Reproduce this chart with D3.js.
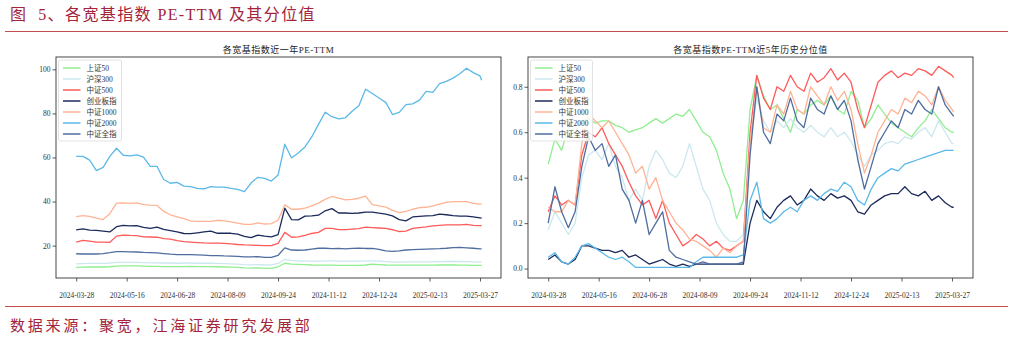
<!DOCTYPE html>
<html><head><meta charset="utf-8">
<script src="https://cdn.jsdelivr.net/npm/d3@7"></script>
<style>body{margin:0;background:#fff;} svg{display:block}</style>
</head><body>
<svg id="c" width="1013" height="340"></svg>
<script>
// ---------- data ----------
const seriesNames = ["上证50","沪深300","中证500","创业板指","中证1000","中证2000","中证全指"];
const seriesColors = ["#90ee90","#cbe8ef","#ff5b5b","#1c2a5c","#ffb394","#5bb9e8","#4f6d9e"];
const tickLabels = ["2024-03-28","2024-05-16","2024-06-28","2024-08-09","2024-09-24","2024-11-12","2024-12-24","2025-02-13","2025-03-27"];
const tickIndex = [0,30,60,90,120,150,180,210,240];
// trading-day index of each sampled point
const dayIndex = d3.range(0, 241, 4).concat([241]);

// PE-TTM (left panel)
const peSZ50 = [10.1,10.2,10.3,10.3,10.3,10.4,10.7,10.8,10.8,10.8,
 10.7,10.6,10.6,10.5,10.5,10.5,10.5,10.6,10.5,10.5,
 10.5,10.4,10.3,10.2,10.1,9.9,9.8,9.9,9.7,9.7,
 10.4,12.0,11.6,11.5,11.4,11.2,11.1,11.1,11.1,11.0,
 11.0,11.0,11.0,11.2,11.6,11.4,11.2,11.1,11.1,11.1,
 11.1,11.1,11.1,11.1,11.2,11.2,11.2,11.1,11.1,11.0,
 11.0,11.0];
const peHS300 = [11.7,11.8,11.9,11.9,11.9,12.1,12.4,12.4,12.4,12.4,
 12.3,12.2,12.2,12.1,12.1,12.0,12.1,12.1,12.0,12.0,
 12.0,11.9,11.8,11.7,11.6,11.4,11.3,11.4,11.2,11.3,
 11.9,13.8,13.3,13.1,13.1,13.0,13.0,13.1,13.1,13.0,
 13.0,13.0,13.0,13.1,13.1,13.0,12.7,12.5,12.5,12.6,
 12.6,12.6,12.6,12.6,12.7,12.8,12.8,12.8,12.7,12.6,
 12.5,12.5];
const peZZ500 = [21.6,22.4,22.0,21.6,21.6,21.5,24.3,24.8,24.6,24.5,
 24.0,23.9,23.8,23.2,22.9,22.3,21.8,21.6,21.4,21.2,
 21.1,21.1,21.0,20.8,20.5,20.3,20.2,20.1,20.0,20.0,
 21.0,26.0,23.8,24.0,24.6,25.5,26.0,27.8,27.8,27.3,
 27.3,27.5,27.7,28.4,28.2,28.0,27.8,27.2,26.4,26.6,
 27.8,28.2,28.5,29.0,29.2,29.4,29.4,29.4,29.6,29.2,
 29.1,29.1];
const peCYB = [27.1,27.6,27.0,26.9,26.6,26.2,28.6,29.2,29.0,29.1,
 28.3,27.8,28.4,27.4,26.8,26.2,25.5,25.4,25.8,26.2,
 26.6,25.6,25.6,25.6,25.2,24.2,23.6,24.8,24.3,24.0,
 25.0,37.0,31.8,31.7,33.4,33.5,33.8,35.8,36.8,34.8,
 34.8,34.6,34.8,35.2,35.2,34.7,34.3,33.5,31.8,31.2,
 33.0,33.3,33.5,33.6,34.3,34.0,33.6,33.4,33.4,33.0,
 32.6,32.5];
const peZZ1000 = [33.2,33.6,33.3,32.5,31.8,34.5,39.3,39.4,39.2,39.4,
 38.6,38.4,38.3,35.5,34.0,33.0,32.2,31.2,31.0,31.0,
 31.0,31.5,31.2,30.8,30.2,29.6,29.6,30.3,29.8,30.0,
 31.5,38.5,36.5,36.5,37.0,38.0,39.3,41.0,42.3,41.5,
 40.8,41.0,41.5,42.5,38.6,38.0,37.5,36.0,35.0,35.5,
 36.5,37.2,37.4,38.0,38.8,39.6,40.0,40.0,40.0,39.2,
 38.8,38.8];
const peZZ2000 = [60.5,60.5,58.8,54.0,55.5,60.5,64.2,61.0,60.7,61.2,
 60.2,56.0,56.0,50.0,48.3,48.7,47.0,46.8,46.0,45.8,
 46.8,46.5,46.5,46.0,45.5,44.5,48.5,51.0,50.5,49.3,
 52.0,66.0,59.8,62.0,64.8,69.3,75.0,80.5,78.5,77.5,
 78.0,81.0,83.5,91.0,89.0,87.0,85.0,79.5,80.5,84.0,
 84.3,86.0,90.0,89.5,93.5,94.5,96.0,98.0,100.5,98.5,
 97.0,95.0];
const peZZQZ = [16.3,16.2,16.2,16.2,16.4,16.8,17.3,17.3,17.2,17.1,
 16.9,16.8,16.7,16.4,16.1,15.9,15.9,15.9,15.8,15.7,
 15.5,15.5,15.3,15.2,15.1,14.9,14.9,15.0,14.7,14.7,
 15.6,19.0,18.0,17.9,18.0,18.4,18.8,18.8,18.6,18.7,
 18.5,18.7,18.8,18.7,18.7,18.3,17.6,17.4,17.6,18.0,
 18.2,18.3,18.4,18.5,18.6,18.8,19.1,19.2,19.0,18.8,
 18.5,18.5];

// 5-year percentile (right panel)
const pctSZ50 = [0.46,0.57,0.52,0.62,0.60,0.65,0.66,0.64,0.65,0.65,
 0.63,0.62,0.60,0.61,0.62,0.64,0.66,0.64,0.66,0.68,
 0.67,0.70,0.65,0.60,0.58,0.52,0.42,0.35,0.22,0.30,
 0.70,0.85,0.76,0.70,0.72,0.66,0.60,0.70,0.68,0.72,
 0.74,0.72,0.76,0.70,0.68,0.78,0.74,0.62,0.66,0.72,
 0.68,0.64,0.62,0.60,0.58,0.62,0.65,0.70,0.66,0.62,
 0.60,0.60];
const pctHS300 = [0.17,0.25,0.20,0.15,0.20,0.40,0.50,0.52,0.48,0.55,
 0.45,0.40,0.30,0.35,0.30,0.45,0.52,0.48,0.42,0.40,
 0.45,0.55,0.45,0.35,0.30,0.20,0.15,0.12,0.12,0.15,
 0.55,0.75,0.65,0.60,0.65,0.62,0.66,0.62,0.60,0.63,
 0.60,0.58,0.62,0.58,0.60,0.56,0.50,0.45,0.50,0.52,
 0.55,0.56,0.55,0.58,0.57,0.60,0.62,0.58,0.65,0.60,
 0.55,0.55];
const pctZZ500 = [0.25,0.32,0.28,0.30,0.28,0.50,0.60,0.58,0.62,0.55,
 0.50,0.45,0.38,0.32,0.28,0.30,0.22,0.30,0.20,0.15,
 0.10,0.12,0.15,0.13,0.10,0.12,0.09,0.08,0.10,0.12,
 0.60,0.85,0.75,0.70,0.80,0.78,0.85,0.80,0.78,0.86,
 0.82,0.84,0.88,0.83,0.86,0.82,0.70,0.62,0.72,0.82,
 0.85,0.87,0.84,0.86,0.85,0.88,0.87,0.85,0.89,0.87,
 0.85,0.84];
const pctCYB = [0.04,0.06,0.03,0.02,0.04,0.10,0.10,0.09,0.08,0.08,
 0.07,0.08,0.05,0.06,0.04,0.02,0.03,0.04,0.02,0.01,
 0.02,0.01,0.02,0.02,0.02,0.02,0.02,0.02,0.02,0.02,
 0.20,0.30,0.25,0.22,0.27,0.30,0.32,0.28,0.30,0.35,
 0.32,0.30,0.33,0.31,0.32,0.30,0.25,0.24,0.28,0.30,
 0.32,0.33,0.33,0.36,0.33,0.32,0.34,0.30,0.32,0.29,
 0.27,0.27];
const pctZZ1000 = [0.27,0.25,0.25,0.30,0.28,0.55,0.68,0.65,0.62,0.65,
 0.60,0.55,0.50,0.42,0.45,0.35,0.40,0.30,0.25,0.20,
 0.17,0.13,0.12,0.10,0.08,0.05,0.09,0.07,0.10,0.12,
 0.55,0.80,0.62,0.60,0.72,0.68,0.78,0.70,0.68,0.80,
 0.76,0.72,0.80,0.74,0.78,0.70,0.55,0.42,0.50,0.60,
 0.65,0.70,0.68,0.75,0.73,0.78,0.76,0.72,0.80,0.74,
 0.70,0.69];
const pctZZ2000 = [0.05,0.07,0.03,0.02,0.05,0.10,0.11,0.09,0.07,0.05,
 0.04,0.05,0.03,0.005,0.005,0.005,0.005,0.005,0.005,0.005,
 0.005,0.005,0.03,0.05,0.05,0.05,0.05,0.05,0.05,0.06,
 0.30,0.38,0.22,0.20,0.22,0.25,0.27,0.25,0.30,0.32,
 0.30,0.33,0.35,0.34,0.38,0.36,0.30,0.28,0.35,0.40,
 0.42,0.44,0.43,0.46,0.47,0.48,0.49,0.50,0.51,0.52,
 0.52,0.52];
const pctZZQZ = [0.20,0.36,0.25,0.18,0.25,0.45,0.58,0.52,0.55,0.45,
 0.50,0.35,0.30,0.20,0.30,0.15,0.20,0.25,0.08,0.05,
 0.04,0.03,0.02,0.03,0.02,0.02,0.02,0.02,0.02,0.03,
 0.50,0.80,0.60,0.55,0.68,0.65,0.75,0.65,0.62,0.75,
 0.70,0.68,0.76,0.70,0.74,0.65,0.48,0.35,0.45,0.55,
 0.60,0.65,0.62,0.70,0.68,0.74,0.70,0.68,0.80,0.72,
 0.68,0.67];

const leftTicks = [20,40,60,80,100];
const rightTicks = [0,0.2,0.4,0.6,0.8];

// ---------- drawing ----------
const svg = d3.select("#c");
const SERIF = "'Liberation Serif','DejaVu Serif','Noto Sans CJK SC',serif";
const RED = "#c0504d";

svg.append("text").attr("x", 10).attr("y", 20)
  .attr("fill", "#a3243b").style("font-family", SERIF).style("font-size", "16px")
  .style("letter-spacing", "1.4px").style("white-space", "pre")
  .text("图  5、各宽基指数 PE-TTM 及其分位值");
svg.append("line").attr("x1", 5).attr("x2", 1008).attr("y1", 31.5).attr("y2", 31.5)
  .attr("stroke", RED).attr("stroke-width", 1);
svg.append("line").attr("x1", 5).attr("x2", 1008).attr("y1", 306.5).attr("y2", 306.5)
  .attr("stroke", RED).attr("stroke-width", 1);
svg.append("text").attr("x", 10).attr("y", 331)
  .attr("fill", "#a3243b").style("font-family", SERIF).style("font-size", "15px")
  .style("letter-spacing", "2.8px")
  .text("数据来源：聚宽，江海证券研究发展部");

function panel(o) {
  const g = svg.append("g");
  const x = d3.scaleLinear().domain([-12, 252.5]).range([o.left, o.right]);
  const y = d3.scaleLinear().domain(o.yDomain).range([o.bottom, o.top]);
  const clipId = "clip" + o.id;
  g.append("clipPath").attr("id", clipId).append("rect")
    .attr("x", o.left).attr("y", o.top).attr("width", o.right - o.left).attr("height", o.bottom - o.top);

  const line = d3.line().x((d, i) => x(dayIndex[i])).y(d => y(d));
  const lg = g.append("g").attr("clip-path", `url(#${clipId})`);
  o.series.forEach((s, k) => {
    lg.append("path").attr("d", line(s)).attr("fill", "none")
      .attr("stroke", seriesColors[k]).attr("stroke-width", 1.3)
      .attr("stroke-linejoin", "round");
  });

  // x axis
  const xa = d3.axisBottom(x).tickValues(tickIndex).tickSize(3.5)
    .tickFormat((d, i) => tickLabels[i]);
  const xg = g.append("g").attr("transform", `translate(0,${o.bottom})`).call(xa);
  xg.select(".domain").remove();
  xg.selectAll("line").attr("stroke", "#333").attr("stroke-width", 0.8);
  xg.selectAll("text").attr("fill", "#333").attr("dy", null).attr("y", 20)
    .style("font-family", SERIF).style("font-size", "7.5px");

  // y axis
  const ya = d3.axisLeft(y).tickValues(o.yTicks).tickSize(3.5).tickFormat(o.yFormat);
  const yg = g.append("g").attr("transform", `translate(${o.left},0)`).call(ya);
  yg.select(".domain").remove();
  yg.selectAll("line").attr("stroke", "#333").attr("stroke-width", 0.8);
  yg.selectAll("text").attr("fill", "#333").attr("x", -5.5)
    .style("font-family", SERIF).style("font-size", "7.5px");

  // frame
  g.append("rect").attr("x", o.left).attr("y", o.top)
    .attr("width", o.right - o.left).attr("height", o.bottom - o.top)
    .attr("fill", "none").attr("stroke", "#333").attr("stroke-width", 0.9);

  // title
  g.append("text").attr("x", (o.left + o.right) / 2).attr("y", 53)
    .attr("text-anchor", "middle").attr("fill", "#222")
    .style("font-family", SERIF).style("font-size", "9px").style("letter-spacing", "0.5px")
    .text(o.title);

  // legend
  const lx = o.left + 2.5, ly = o.top + 3;
  const leg = g.append("g");
  leg.append("rect").attr("x", lx).attr("y", ly).attr("width", o.legendW).attr("height", 81)
    .attr("rx", 2).attr("fill", "#fff").attr("fill-opacity", 0.85)
    .attr("stroke", "#dcdcdc").attr("stroke-width", 0.8);
  seriesNames.forEach((n, k) => {
    const yy = ly + 8 + k * 11;
    leg.append("line").attr("x1", lx + 4.5).attr("x2", lx + 22).attr("y1", yy).attr("y2", yy)
      .attr("stroke", seriesColors[k]).attr("stroke-width", 1.5);
    leg.append("text").attr("x", lx + 28).attr("y", yy).attr("dy", "0.35em")
      .attr("fill", "#333").style("font-family", SERIF).style("font-size", "7.5px").text(n);
  });
}

panel({
  id: "L", left: 56, right: 501, top: 57, bottom: 278,
  yDomain: [5.3, 105.6], yTicks: leftTicks, yFormat: d3.format("d"),
  title: "各宽基指数近一年PE-TTM", legendW: 63,
  series: [peSZ50, peHS300, peZZ500, peCYB, peZZ1000, peZZ2000, peZZQZ]
});
panel({
  id: "R", left: 528, right: 973, top: 57, bottom: 278,
  yDomain: [-0.0414, 0.931], yTicks: rightTicks, yFormat: d3.format(".1f"),
  title: "各宽基指数PE-TTM近5年历史分位值", legendW: 62,
  series: [pctSZ50, pctHS300, pctZZ500, pctCYB, pctZZ1000, pctZZ2000, pctZZQZ]
});
</script>
</body></html>
